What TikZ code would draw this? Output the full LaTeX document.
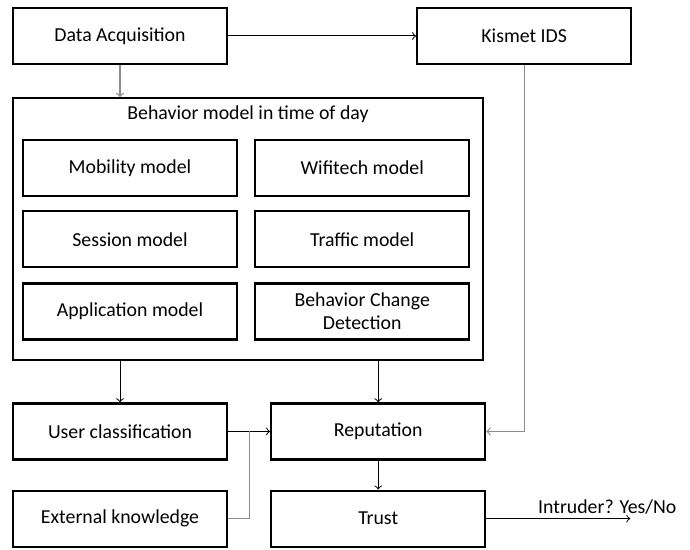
\documentclass[tikz,border=0pt]{standalone}
\usepackage{fontspec}
\setmainfont{Carlito}
\usepackage{tikz}
\usetikzlibrary{calc}
\usetikzlibrary{arrows}
\usetikzlibrary{positioning}
\tikzstyle{block} = [draw=black, line width=1.1pt, minimum width=107pt, minimum height=28pt, inner sep=2pt, align=center]
\tikzstyle{outer} = [draw=black, line width=1.1pt, minimum width=235pt, minimum height=131pt, inner sep=0pt]
\tikzstyle{arrow} = [-latex',->, line width=0.5pt, to path={-- (\tikztotarget)}]
\tikzstyle{garrow} = [-latex',->, line width=0.6pt, draw=black!45, to path={-- (\tikztotarget)}]
\begin{document}
\begin{tikzpicture}[font=\fontsize{9.9}{11.5}\selectfont]
            \useasboundingbox (0,0) rectangle (345pt,-275pt);
            \node (acq) [block] at (60pt,-18pt) {Data Acquisition};
            \node (kismet) [block, right=94pt of acq] {Kismet IDS};
            \node (behavior) [outer, below=16pt of acq.south west, anchor=north west] {};
            \node (title) [below=3pt of behavior.north, inner sep=1pt] {Behavior model in time of day};
            \node (mobility) [block, below right=21pt and 5pt of behavior.north west] {Mobility model};
            \node (wifitech) [block, right=8pt of mobility] {Wifitech model};
            \node (session) [block, below=6.5pt of mobility] {Session model};
            \node (traffic) [block, right=8pt of session] {Traffic model};
            \node (application) [block, below=7pt of session] {Application model};
            \node (change) [block, right=8pt of application] {Behavior Change\\Detection};
            \node (userclass) [block, below=20.5pt of behavior.south west, anchor=north west] {User classification};
            \node (reputation) [block, right=21pt of userclass] {Reputation};
            \node (external) [block, below=14.5pt of userclass] {External knowledge};
            \node (trust) [block, right=21pt of external] {Trust};
            \coordinate (join) at ($(userclass.east)!0.5!(reputation.west)$);
            \coordinate (verdict) at ($(trust.east)+(72pt,0)$);

            \draw [arrow] (acq) -- (kismet);
            \draw [garrow] (acq) -- (acq |- behavior.north);
            \draw [garrow] (kismet) |- (reputation);
            \draw [arrow] (userclass |- behavior.south) -- (userclass);
            \draw [arrow] (reputation |- behavior.south) -- (reputation);
            \draw [arrow] (userclass) -- (reputation);
            \draw [line width=0.6pt, draw=black!45] (external) -| (join);
            \draw [arrow] (reputation) -- (trust);
            \draw [arrow] (trust) -- node[pos=0.84, above, inner sep=2pt]{Intruder? Yes/No} (verdict);
        \end{tikzpicture}
\end{document}
